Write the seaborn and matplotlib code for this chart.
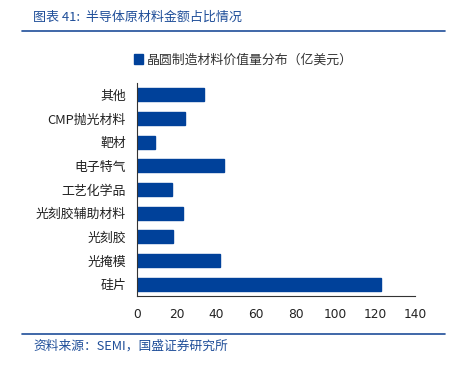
import matplotlib
matplotlib.use("Agg")
import matplotlib.pyplot as plt
import seaborn as sns
import pandas as pd
import numpy as np

categories = ["其他", "CMP抛光材料", "靶材", "电子特气", "工艺化学品", "光刻胶辅助材料", "光刻胶", "光掩模", "硅片"]
values = [33.9, 24.0, 9.2, 44.0, 17.8, 23.3, 18.3, 41.6, 122.9]
series_name = "晶圆制造材料价值量分布（亿美元）"
xticks = [0, 20, 40, 60, 80, 100, 120, 140]

sns.set_theme(style="white")
plt.rcParams['font.family'] = ['Noto Sans CJK SC', 'DejaVu Sans']

df = pd.DataFrame({"cat": categories, "val": values})

fig = plt.figure(figsize=(4.55, 3.68), dpi=100)
ax = fig.add_axes([137/455, 1 - 296/368, (415-137)/455, (296-83)/368])

bar_color = "#00419A"
sns.barplot(data=df, y="cat", x="val", orient="h", color=bar_color, width=0.56,
            ax=ax, saturation=1, edgecolor=bar_color)

ax.set_xlim(0, 140)
ax.set_xticks(xticks)
ax.set_xticklabels([str(t) for t in xticks], fontsize=8.8, color="#222222", fontfamily="DejaVu Sans")
ax.set_ylim(len(categories) - 0.5, -0.5)
ax.set_yticks(np.arange(len(categories)))
ax.set_yticklabels(categories, fontsize=9.3, color="#222222")
ax.set_yticks(np.arange(len(categories) + 1) - 0.5, minor=True)
ax.tick_params(axis="y", which="major", length=0, pad=8)
ax.tick_params(axis="y", which="minor", length=4, direction="in", color="#333333", width=0.8)
ax.tick_params(axis="x", which="major", length=4, direction="in", color="#333333", width=0.8, pad=9)
ax.set_xlabel("")
ax.set_ylabel("")
for s in ["top", "right"]:
    ax.spines[s].set_visible(False)
for s in ["left", "bottom"]:
    ax.spines[s].set_color("#333333")
    ax.spines[s].set_linewidth(0.8)

# legend
from matplotlib.patches import Patch
leg = fig.legend(handles=[Patch(facecolor=bar_color, edgecolor=bar_color)], labels=[series_name],
                 loc="center left", bbox_to_anchor=(122/455, 1 - 60/368), frameon=False,
                 fontsize=9.3, handlelength=0.7, handleheight=0.9, handletextpad=0.3)
for t in leg.get_texts():
    t.set_color("#333333")

# title and lines
title_color = "#1F4E99"
fig.text(33/455, 1 - 17/368, "图表 41:  半导体原材料金额占比情况", fontsize=9.4, color=title_color,
         va="center", ha="left", style="italic")
fig.add_artist(plt.Line2D([22/455, 445/455], [1 - 31/368, 1 - 31/368], color="#1F4E99", lw=1.2))
fig.add_artist(plt.Line2D([22/455, 445/455], [1 - 334/368, 1 - 334/368], color="#1F4E99", lw=1.2))
fig.text(33/455, 1 - 346/368, "资料来源：SEMI，国盛证券研究所", fontsize=9.2, color=title_color,
         va="center", ha="left", style="italic")

fig.savefig("out.png", dpi=100)
